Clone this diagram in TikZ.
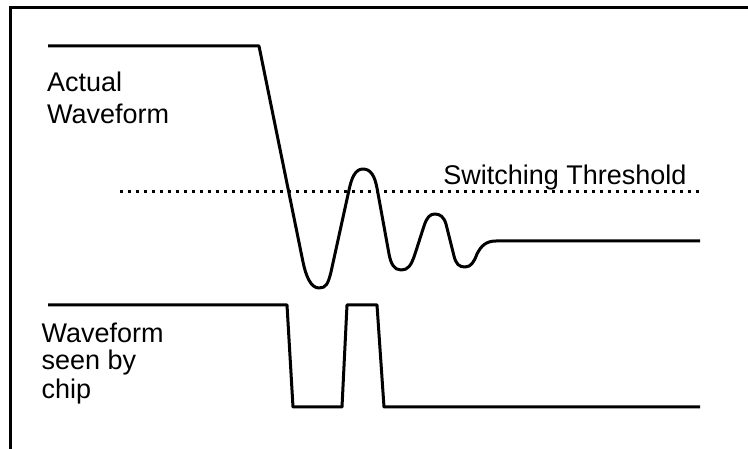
\documentclass[tikz,border=0pt]{standalone}
\usepackage{fontspec}
\setmainfont{Liberation Sans}
\begin{document}
\begin{tikzpicture}[x=1pt,y=-1pt,
  wave/.style={line width=3pt, line join=round, line cap=butt},
  frame/.style={line width=3pt},
  thresh/.style={line width=2.4pt, dash pattern=on 3pt off 5pt},
  lbl/.style={inner sep=0pt, font=\fontsize{27}{30}\selectfont}]
\useasboundingbox (0,0) rectangle (748,449);
% frame (top and left edges only)
\draw[frame] (10,449) -- (10,8) -- (748,8);
% threshold
\coordinate (thL) at (120,191.7);
\coordinate (thR) at (700,191.7);
\draw[thresh] (thL) -- (thR);
\node[lbl, anchor=base east] (thlabel) at (686.7,185) {Switching Threshold};
% labels
\node[lbl, anchor=base west] (act1) at (47,91.7) {Actual};
\node[lbl, anchor=base west] (act2) at (47,123.3) {Waveform};
\node[lbl, anchor=base west] (chip1) at (41.5,342.3) {Waveform};
\node[lbl, anchor=base west] (chip2) at (41.5,370) {seen by};
\node[lbl, anchor=base west] (chip3) at (41.5,398.3) {chip};
% actual waveform
\draw[wave] (48,46) -- (259,46) -- (303,262)
  .. controls (306,276.6) and (311,288) .. (319,288)
  .. controls (326,288) and (328,284) .. (331,272)
  -- (349,190)
  .. controls (351.5,178.4) and (355,169) .. (363,169)
  .. controls (371,169) and (374.8,176.5) .. (377,188)
  -- (389,254)
  .. controls (390.8,263.5) and (394,270) .. (401,270)
  .. controls (408,270) and (411,266) .. (415,254)
  -- (424,226)
  .. controls (427,217) and (430,214) .. (435,214)
  .. controls (440,214) and (444,217) .. (446,224)
  -- (454,256)
  .. controls (456,264) and (459,267) .. (465,267)
  .. controls (471,267) and (474,262) .. (477,254)
  .. controls (481,246) and (486,241) .. (496,241)
  -- (700,241);
% waveform seen by chip
\draw[wave] (48,305) -- (287,305) -- (293,407) -- (342,407) -- (347,305)
  -- (377,305) -- (384,407) -- (700,407);
\end{tikzpicture}
\end{document}
